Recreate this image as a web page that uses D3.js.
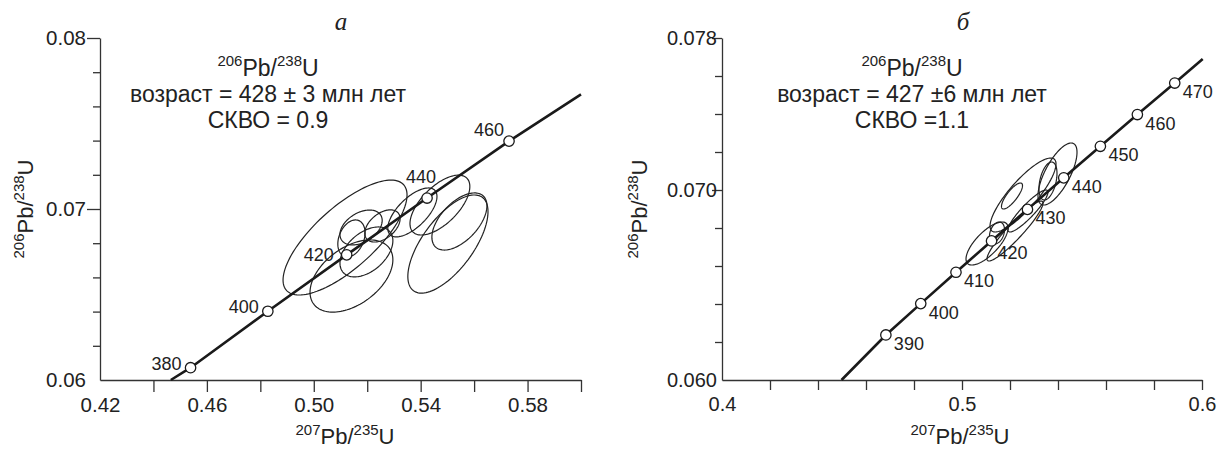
<!DOCTYPE html>
<html>
<head>
<meta charset="utf-8">
<script src="https://cdn.jsdelivr.net/npm/d3@7"></script>
<style>
  body { margin: 0; background: #fff; }
  svg { display: block; }
</style>
</head>
<body>
<svg id="chart" width="1219" height="450"></svg>
<script>
// ---- panel a ----
var ages_a = [380, 400, 420, 440, 460];
var concX_a = [0.45389, 0.48281, 0.51231, 0.54239, 0.57307];
var concY_a = [0.06072, 0.06402, 0.06732, 0.07064, 0.07397];
var lineStart_a = [0.4465, 0.0600];
var lineEnd_a = [0.6000, 0.0767];
// ellipses: centre, half-extent and correlation
var ellX_a   = [0.5117, 0.5141, 0.5197, 0.5141, 0.5177, 0.5257, 0.5369, 0.5472, 0.5502, 0.5545];
var ellSX_a  = [0.0232, 0.0155, 0.0099, 0.0051, 0.0079, 0.0066, 0.0092, 0.0112, 0.0150, 0.0103];
var ellY_a   = [0.06833, 0.06608, 0.06749, 0.06828, 0.06892, 0.06901, 0.06980, 0.07023, 0.06795, 0.06927];
var ellSY_a  = [0.00336, 0.00211, 0.00146, 0.00108, 0.00102, 0.00094, 0.00143, 0.00175, 0.00287, 0.00167];
var ellRho_a = [0.74, 0.45, 0.45, 0.3, 0.4, 0.45, 0.65, 0.62, 0.66, 0.55];
var xTicks_a = [0.44, 0.46, 0.48, 0.50, 0.52, 0.54, 0.56, 0.58, 0.60];
var xLabels_a = [0.42, 0.46, 0.50, 0.54, 0.58];
var yMinor_a = [0.062, 0.064, 0.066, 0.068, 0.072, 0.074, 0.076, 0.078];
var yMajor_a = [0.07, 0.08];
var yLabels_a = [0.06, 0.07, 0.08];

// ---- panel б ----
var ages_b = [390, 400, 410, 420, 430, 440, 450, 460, 470];
var concX_b = [0.46828, 0.48281, 0.49749, 0.51231, 0.52728, 0.54239, 0.55766, 0.57307, 0.58864];
var concY_b = [0.06237, 0.06402, 0.06567, 0.06732, 0.06898, 0.07064, 0.07230, 0.07397, 0.07563];
var lineStart_b = [0.4498, 0.0600];
var lineEnd_b = [0.6003, 0.0769];
var ellX_b   = [0.52542, 0.53979, 0.53583, 0.52083, 0.52750, 0.51042, 0.51458, 0.52208];
var ellSX_b  = [0.01375, 0.00813, 0.00375, 0.00438, 0.00833, 0.00875, 0.00313, 0.01167];
var ellY_b   = [0.069737, 0.070842, 0.070474, 0.069684, 0.068895, 0.067184, 0.067737, 0.067842];
var ellSY_b  = [0.001947, 0.001632, 0.001000, 0.000684, 0.001105, 0.001132, 0.000579, 0.001579];
var ellRho_b = [0.84, 0.7, 0.4, 0.8, 0.9, 0.72, 0.3, 0.93];
var xTicks_b = [0.42, 0.44, 0.46, 0.48, 0.50, 0.52, 0.54, 0.56, 0.58, 0.60];
var xLabels_b = [0.4, 0.5, 0.6];
var yMinor_b = [0.062, 0.064, 0.066, 0.068, 0.072, 0.074, 0.076];
var yMajor_b = [0.070, 0.078];
var yLabels_b = [0.060, 0.070, 0.078];

var SANS = "'Liberation Sans', Arial, sans-serif";
var SERIF = "'Liberation Serif', 'Times New Roman', serif";
var ink = "#222";

var svg = d3.select("#chart");

// writes 206Pb/238U style text into a <text>
function isotope(t, a, b, big, small) {
  t.append("tspan").attr("font-size", small).attr("dy", -0.42 * big).text(a);
  t.append("tspan").attr("font-size", big).attr("dy", 0.42 * big).text("Pb/");
  t.append("tspan").attr("font-size", small).attr("dy", -0.42 * big).text(b);
  t.append("tspan").attr("font-size", big).attr("dy", 0.42 * big).text("U");
}

function styleAxis(g, fs) {
  g.attr("font-family", SANS).attr("font-size", fs).attr("color", "#333");
  g.selectAll("line, path").attr("stroke-width", 1.3);
  g.selectAll("text").attr("fill", ink);
}

function drawPanel(p) {
  var x = d3.scaleLinear().domain(p.xDomain).range(p.xRange);
  var y = d3.scaleLinear().domain(p.yDomain).range([380, 38]);
  var g = svg.append("g");

  // axes
  var gx = g.append("g").attr("transform", "translate(0,380)")
    .call(d3.axisBottom(x).tickValues(p.xTicks).tickSize(p.xTickLen).tickSizeOuter(0).tickFormat(""));
  styleAxis(gx, p.fs);
  var gxl = g.append("g").attr("transform", "translate(0,380)")
    .call(d3.axisBottom(x).tickValues(p.xLabels).tickSize(0).tickPadding(17).tickFormat(d3.format(p.xFmt)));
  gxl.select(".domain").remove();
  styleAxis(gxl, p.fs);

  var x0 = p.xRange[0];
  var gy = g.append("g").attr("transform", "translate(" + x0 + ",0)")
    .call(d3.axisLeft(y).tickValues(p.yMajor).tickSize(p.yMajorLen).tickSizeOuter(0).tickFormat(""));
  styleAxis(gy, p.fs);
  var gym = g.append("g").attr("transform", "translate(" + x0 + ",0)")
    .call(d3.axisLeft(y).tickValues(p.yMinor).tickSize(7).tickFormat(""));
  gym.select(".domain").remove();
  styleAxis(gym, p.fs);
  var gyl = g.append("g").attr("transform", "translate(" + x0 + ",0)")
    .call(d3.axisLeft(y).tickValues(p.yLabels).tickSize(0).tickPadding(p.yPad).tickFormat(d3.format(p.yFmt)));
  gyl.select(".domain").remove();
  styleAxis(gyl, p.fs);

  // ellipses
  var steps = d3.range(0, 2 * Math.PI, Math.PI / 60);
  var ell = d3.line().curve(d3.curveLinearClosed);
  g.append("g").selectAll("path")
    .data(p.ellX.map(function (d, i) {
      return { x: d, sx: p.ellSX[i], y: p.ellY[i], sy: p.ellSY[i], r: p.ellRho[i] };
    }))
    .enter().append("path")
      .attr("d", function (e) {
        var q = Math.sqrt(1 - e.r * e.r);
        return ell(steps.map(function (t) {
          return [x(e.x + e.sx * Math.cos(t)), y(e.y + e.sy * (e.r * Math.cos(t) + q * Math.sin(t)))];
        }));
      })
      .attr("fill", "none")
      .attr("stroke", ink)
      .attr("stroke-width", 1.2);

  // concordia
  var pts = [p.lineStart].concat(p.concX.map(function (d, i) { return [d, p.concY[i]]; }), [p.lineEnd]);
  g.append("path")
    .attr("d", d3.line().x(function (d) { return x(d[0]); }).y(function (d) { return y(d[1]); })(pts))
    .attr("fill", "none").attr("stroke", "#1a1a1a").attr("stroke-width", 2.6);

  var nodes = g.append("g").selectAll("g")
    .data(p.ages.map(function (a, i) { return { age: a, x: p.concX[i], y: p.concY[i] }; }))
    .enter().append("g")
      .attr("transform", function (d) { return "translate(" + x(d.x) + "," + y(d.y) + ")"; });
  nodes.append("circle").attr("r", 5.2).attr("fill", "#fff").attr("stroke", "#1a1a1a").attr("stroke-width", 1.3);
  nodes.append("text")
    .attr("font-family", SANS).attr("font-size", 18).attr("fill", ink)
    .attr("text-anchor", function (d) { return p.label(d.age).anchor; })
    .attr("x", function (d) { return p.label(d.age).dx; })
    .attr("y", function (d) { return p.label(d.age).dy; })
    .text(function (d) { return d.age; });

  // titles
  g.append("text").attr("x", p.letterX).attr("y", 30)
    .attr("font-family", SERIF).attr("font-style", "italic").attr("font-size", 25)
    .attr("text-anchor", "middle").attr("fill", ink).text(p.letter);

  var t1 = g.append("text").attr("x", p.noteX).attr("y", 76).attr("text-anchor", "middle")
    .attr("font-family", SANS).attr("fill", ink);
  isotope(t1, "206", "238", 23, 15);
  g.append("text").attr("x", p.noteX).attr("y", 102).attr("text-anchor", "middle")
    .attr("font-family", SANS).attr("font-size", 23).attr("fill", ink).text(p.age);
  g.append("text").attr("x", p.noteX).attr("y", 128).attr("text-anchor", "middle")
    .attr("font-family", SANS).attr("font-size", 23).attr("fill", ink).text(p.mswd);

  var tx = g.append("text").attr("x", p.xTitleX).attr("y", 444).attr("text-anchor", "middle")
    .attr("font-family", SANS).attr("fill", ink);
  isotope(tx, "207", "235", 22, 15);
  var ty = g.append("text").attr("transform", "translate(" + p.yTitleX + ",209) rotate(-90)")
    .attr("text-anchor", "middle").attr("font-family", SANS).attr("fill", ink);
  isotope(ty, "206", "238", 22, 15);
}

drawPanel({
  xDomain: [0.42, 0.60], xRange: [100, 581], yDomain: [0.06, 0.08],
  xTicks: xTicks_a, xLabels: xLabels_a, xFmt: ".2f", xTickLen: 12,
  yMinor: yMinor_a, yMajor: yMajor_a, yLabels: yLabels_a, yFmt: ".2f", yMajorLen: 13, yPad: 14,
  fs: 20.5,
  ages: ages_a, concX: concX_a, concY: concY_a, lineStart: lineStart_a, lineEnd: lineEnd_a,
  ellX: ellX_a, ellSX: ellSX_a, ellY: ellY_a, ellSY: ellSY_a, ellRho: ellRho_a,
  label: function (a) {
    if (a === 440) return { anchor: "middle", dx: -6, dy: -15 };
    if (a === 460) return { anchor: "end", dx: -5, dy: -5 };
    if (a === 420) return { anchor: "end", dx: -13, dy: 6 };
    return { anchor: "end", dx: -9, dy: 2 };
  },
  letter: "a", letterX: 341, noteX: 268, xTitleX: 345, yTitleX: 33,
  age: "возраст = 428 ± 3 млн лет", mswd: "СКВО = 0.9"
});

drawPanel({
  xDomain: [0.4, 0.6], xRange: [722, 1202], yDomain: [0.060, 0.078],
  xTicks: xTicks_b, xLabels: xLabels_b, xFmt: ".1f", xTickLen: 10,
  yMinor: yMinor_b, yMajor: yMajor_b, yLabels: yLabels_b, yFmt: ".3f", yMajorLen: 10, yPad: 5,
  fs: 20,
  ages: ages_b, concX: concX_b, concY: concY_b, lineStart: lineStart_b, lineEnd: lineEnd_b,
  ellX: ellX_b, ellSX: ellSX_b, ellY: ellY_b, ellSY: ellSY_b, ellRho: ellRho_b,
  label: function (a) {
    if (a === 420) return { anchor: "start", dx: 6, dy: 18 };
    return { anchor: "start", dx: 8, dy: 15 };
  },
  letter: "б", letterX: 963, noteX: 912, xTitleX: 960, yTitleX: 647,
  age: "возраст = 427 ±6 млн лет", mswd: "СКВО =1.1"
});
</script>
</body>
</html>
